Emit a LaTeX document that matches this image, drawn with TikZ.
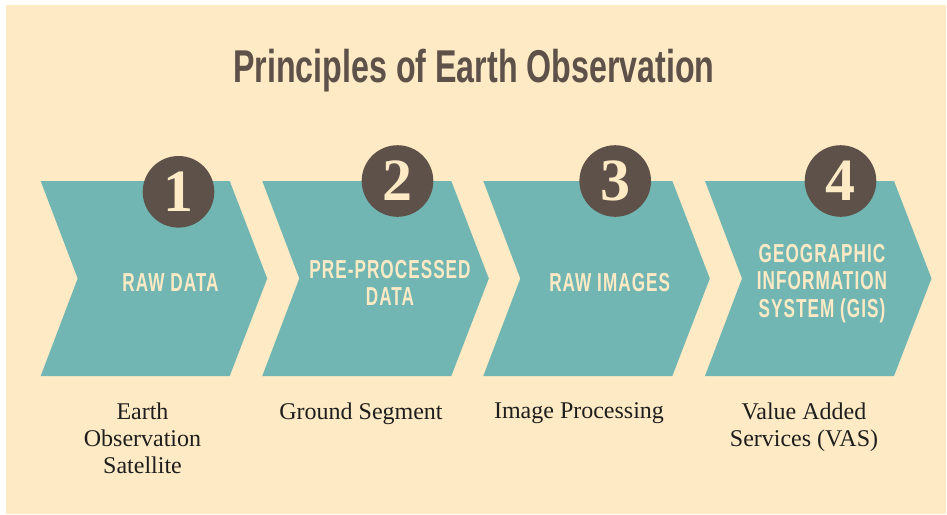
\documentclass[tikz,border=0pt]{standalone}
\usepackage[svgnames]{xcolor}
\usepackage{fontspec}
\setmainfont{Liberation Serif}
\newfontfamily\headfont[FakeStretch=0.7]{Liberation Sans}
\newfontfamily\stepfont[FakeStretch=0.66,LetterSpace=4]{Liberation Sans}
\usetikzlibrary{calc}
\tikzset{>=latex}
\definecolor{EOteal}{HTML}{72B6B3}
\definecolor{EObrown}{HTML}{5E5149}
\definecolor{EOcream}{HTML}{FEEAC4}
\definecolor{EOink}{HTML}{1E1E1E}

\begin{document}
\begin{tikzpicture}[x=1pt, y=-1pt,
  chev/.style={fill=EOteal},
  badge/.style={circle, fill=EObrown, text=EOcream, minimum size=71.6pt, inner sep=0pt,
    font=\bfseries\fontsize{60}{60}\selectfont},
  steptext/.style={text=EOcream, align=center, inner sep=0pt,
    font=\stepfont\bfseries\fontsize{26}{27.3}\selectfont},
  desc/.style={anchor=north, align=center, inner sep=0pt, text=EOink,
    font=\fontsize{24}{27}\selectfont}]
    \useasboundingbox (0,0) rectangle (947,514);
    \fill[white] (0,0) rectangle (947,514);
    \fill[EOcream] (6,5) rectangle (946,514);
    \node[anchor=base, inner sep=0pt, text=EObrown, font=\headfont\bfseries\fontsize{46}{46}\selectfont]
    (title) at (474,82) {Principles of Earth Observation};
    % chevrons
    \foreach \x in {40.7, 262.3, 483.3, 705}
    \fill[chev] (\x,181) -- ++(189,0) -- ++(37.5,97.5) -- ++(-37.5,97.5) -- ++(-189,0) -- ++(37,-97.5) -- cycle;
    \node[badge] (num1) at (178.5,191.8) {1};
    \node[badge] (num2) at (397.5,181) {2};
    \node[badge] (num3) at (615.2,181) {3};
    \node[badge] (num4) at (840.5,181) {4};
    \node[steptext] (step1) at (170.5,282.8) {RAW DATA};
    \node[steptext] (step2) at (390,282.8) {PRE-PROCESSED\\DATA};
    \node[steptext] (step3) at (609.7,282.8) {RAW IMAGES};
    \node[steptext] (step4) at (822,283.5) {GEOGRAPHIC\\INFORMATION\\SYSTEM (GIS)};
    \node[desc] (desc1) at (142.5,402.6) {Earth\\Observation\\Satellite};
    \node[desc] (desc2) at (361,402.6) {Ground Segment};
    \node[desc] (desc3) at (579,402.6) {Image Processing};
    \node[desc] (desc4) at (804,402.6) {Value Added\\Services (VAS)};
\end{tikzpicture}
\end{document}
